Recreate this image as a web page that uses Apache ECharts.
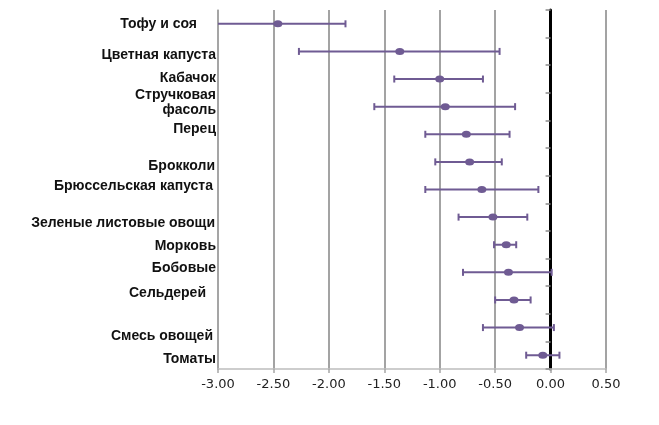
<!DOCTYPE html>
<html><head><meta charset="utf-8">
<script src="https://cdn.jsdelivr.net/npm/echarts@6/dist/echarts.min.js"></script>
<style>html,body{margin:0;padding:0;background:#fff}#c{width:659px;height:425px}</style>
</head><body><div id="c"></div>
<script>
// ---- data ----
const categories = ['Тофу и соя','Цветная капуста','Кабачок','Стручковая\nфасоль','Перец','Брокколи','Брюссельская капуста','Зеленые листовые овощи','Морковь','Бобовые','Сельдерей','Смесь овощей','Томаты'];
const means = [-2.46,-1.36,-1.00,-0.95,-0.76,-0.73,-0.62,-0.52,-0.40,-0.38,-0.33,-0.28,-0.07];
const lower = [-3.10,-2.27,-1.41,-1.59,-1.13,-1.04,-1.13,-0.83,-0.51,-0.79,-0.50,-0.61,-0.22];
const upper = [-1.85,-0.46,-0.61,-0.32,-0.37,-0.44,-0.11,-0.21,-0.31,0.01,-0.18,0.03,0.08];
const xMin = -3, xMax = 0.5, xStep = 0.5;

// ---- layout tweaks for individual labels (vertical shift px, extra right gap px) ----
const labelShift = [0,4,-1,-4,-5,4.5,-3.5,6.5,1,-4,-7,8.5,3.5];
const labelGap   = [19,0,0,0,0,1,3,1,0,0,10,3,0];

const color = '#6f5b93';
const grid = {left:218, right:53, top:10, bottom:56};
const LH = 15;

const base = {fontFamily:'Liberation Sans', fontWeight:'bold', fontSize:14, color:'#111', lineHeight:LH, align:'right'};
const rich = {};
categories.forEach((c,i)=>{
  const s = labelShift[i], g = labelGap[i];
  if (c.indexOf('\n') >= 0) {
    rich['a'+i] = Object.assign({}, base, {padding:[0,g,0,0]});
    rich['e'+i] = {fontSize:2, lineHeight:Math.abs(2*s), padding:0};
  } else {
    rich['a'+i] = Object.assign({}, base, {padding:[s>0?2*s:0, g, s<0?-2*s:0, 0]});
  }
});

const chart = echarts.init(document.getElementById('c'), null, {renderer:'canvas'});
chart.setOption({
  animation:false,
  grid:grid,
  xAxis:{
    type:'value', min:xMin, max:xMax, interval:xStep,
    axisLine:{show:true, lineStyle:{color:'#bdbdbd', width:1.5}},
    axisTick:{show:true, length:4, lineStyle:{color:'#a6a6a6', width:1.5}},
    splitLine:{show:true, lineStyle:{color:'#a3a3a3', width:2}},
    axisLabel:{margin:9, formatter:v=>v.toFixed(2), fontFamily:'DejaVu Sans', fontSize:13, color:'#222'}
  },
  yAxis:[{
    type:'category', data:categories, inverse:true, position:'left',
    axisLine:{show:true, onZero:false, lineStyle:{color:'#a6a6a6', width:1.5}},
    axisTick:{show:false},
    splitLine:{show:false},
    axisLabel:{
      margin:2, align:'right',
      formatter:function(v, i){
        const lines = v.split('\n');
        if (lines.length > 1) {
          const parts = lines.map(l=>'{a'+i+'|'+l+'}');
          if (labelShift[i] < 0) parts.push('{e'+i+'| }'); else parts.unshift('{e'+i+'| }');
          return parts.join('\n');
        }
        return '{a'+i+'|'+v+'}';
      },
      rich:rich
    }
  },{
    type:'category', data:categories, inverse:true, position:'right',
    axisLine:{show:true, onZero:true, lineStyle:{color:'#000', width:3}},
    axisTick:{show:true, inside:true, length:5, lineStyle:{color:'#8a8a8a', width:1.5}},
    axisLabel:{show:false},
    splitLine:{show:false}
  }],
  series:[{
    type:'custom',
    clip:true,
    yAxisIndex:0,
    data:categories.map((c,i)=>[lower[i], upper[i], i]),
    encode:{x:[0,1], y:2},
    renderItem:function(params, api){
      const lo = api.coord([api.value(0), api.value(2)]);
      const hi = api.coord([api.value(1), api.value(2)]);
      const h = 3.5;
      const st = {stroke:color, lineWidth:2};
      return {type:'group', children:[
        {type:'line', shape:{x1:lo[0], y1:lo[1], x2:hi[0], y2:hi[1]}, style:st},
        {type:'line', shape:{x1:lo[0], y1:lo[1]-h, x2:lo[0], y2:lo[1]+h}, style:st},
        {type:'line', shape:{x1:hi[0], y1:hi[1]-h, x2:hi[0], y2:hi[1]+h}, style:st}
      ]};
    }
  },{
    type:'scatter',
    yAxisIndex:0,
    data:categories.map((c,i)=>[means[i], i]),
    symbol:'circle',
    symbolSize:[9,7],
    itemStyle:{color:color, opacity:1},
    z:5
  }]
});
</script></body></html>
